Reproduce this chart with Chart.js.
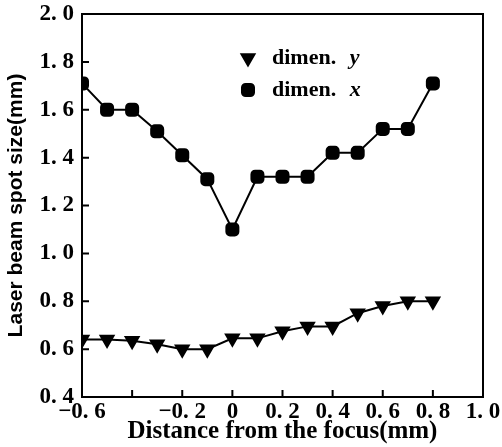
<!DOCTYPE html>
<html>
<head>
<meta charset="utf-8">
<script src="https://cdn.jsdelivr.net/npm/chart.js@4/dist/chart.umd.min.js"></script>
<style>
  html, body { margin: 0; padding: 0; background: #fff; }
  #wrap { width: 502px; height: 447px; }
</style>
</head>
<body>
<div id="wrap"><canvas id="spotChart"></canvas></div>
<script>
  // distance from focus (mm)
  const distance = [-0.6, -0.5, -0.4, -0.3, -0.2, -0.1, 0, 0.1, 0.2, 0.3, 0.4, 0.5, 0.6, 0.7, 0.8];
  // spot size (mm)
  const dimenX = [1.71, 1.60, 1.60, 1.51, 1.41, 1.31, 1.10, 1.32, 1.32, 1.32, 1.42, 1.42, 1.52, 1.52, 1.71];
  const dimenY = [0.64, 0.64, 0.635, 0.62, 0.60, 0.60, 0.645, 0.645, 0.675, 0.695, 0.695, 0.75, 0.78, 0.80, 0.80];

  const xTickLabels = ['\u22120. 6', '', '\u22120. 2', '0', '0. 2', '0. 4', '0. 6', '0. 8', '1. 0'];
  const yTickLabels = ['0. 4', '0. 6', '0. 8', '1. 0', '1. 2', '1. 4', '1. 6', '1. 8', '2. 0'];

  const tickFont = { family: "'Liberation Serif', 'DejaVu Serif', serif", size: 23, weight: 'bold' };

  // frame + inward tick marks + legend inside plot
  const framePlugin = {
    id: 'frame',
    afterDraw(chart) {
      const { ctx, chartArea: a, scales } = chart;
      ctx.save();
      ctx.strokeStyle = '#000';
      ctx.lineWidth = 2;
      ctx.strokeRect(a.left, a.top, a.right - a.left, a.bottom - a.top);
      ctx.beginPath();
      scales.x.ticks.forEach(t => {
        const px = scales.x.getPixelForValue(t.value);
        ctx.moveTo(px, a.bottom);
        ctx.lineTo(px, a.bottom - 7);
      });
      scales.y.ticks.forEach(t => {
        const py = scales.y.getPixelForValue(t.value);
        ctx.moveTo(a.left, py);
        ctx.lineTo(a.left + 7, py);
      });
      ctx.stroke();

      // legend
      const items = [
        { ds: chart.data.datasets[0], name: 'dimen. ', v: 'y', y: 58 },
        { ds: chart.data.datasets[1], name: 'dimen. ', v: 'x', y: 90 }
      ];
      items.forEach(it => {
        Chart.helpers.drawPoint(ctx, {
          pointStyle: it.ds.pointStyle, rotation: it.ds.rotation || 0,
          radius: it.ds.pointRadius, borderWidth: 1
        }, 248, it.y);
        ctx.fillStyle = '#000';
        ctx.textBaseline = 'middle';
        ctx.font = "bold 22px 'Liberation Serif', serif";
        ctx.fillText(it.name, 272, it.y);
        const w = ctx.measureText(it.name).width;
        ctx.font = "italic bold 22px 'Liberation Serif', serif";
        ctx.fillText(it.v, 272 + w + 8, it.y);
      });
      ctx.restore();
    }
  };

  new Chart(document.getElementById('spotChart'), {
    type: 'line',
    data: {
      datasets: [
        {
          label: 'dimen. y',
          data: distance.map((d, i) => ({ x: d, y: dimenY[i] })),
          borderColor: '#000', backgroundColor: '#000', borderWidth: 2,
          pointStyle: 'triangle', rotation: 180, pointRadius: 7.5,
          pointBackgroundColor: '#000', pointBorderColor: '#000', tension: 0
        },
        {
          label: 'dimen. x',
          data: distance.map((d, i) => ({ x: d, y: dimenX[i] })),
          borderColor: '#000', backgroundColor: '#000', borderWidth: 2,
          pointStyle: 'rectRounded', pointRadius: 7,
          pointBackgroundColor: '#000', pointBorderColor: '#000', tension: 0
        }
      ]
    },
    options: {
      responsive: true,
      maintainAspectRatio: false,
      animation: false,
      layout: { padding: { left: 0, right: 19, top: 14, bottom: 0 } },
      plugins: { legend: { display: false }, tooltip: { enabled: false } },
      scales: {
        x: {
          type: 'linear', min: -0.6, max: 1.0,
          afterFit: s => { s.height = 50; },
          grid: { drawOnChartArea: false, drawTicks: false },
          border: { display: false },
          ticks: {
            stepSize: 0.2, color: '#000', font: tickFont, padding: 1, maxRotation: 0,
            autoSkip: false,
            callback: (v, i) => xTickLabels[i]
          },
          title: {
            display: true, text: 'Distance from the focus(mm)', color: '#000',
            font: { family: "'Liberation Serif', serif", size: 25, weight: 'bold' },
            padding: { top: 1, bottom: 0 }
          }
        },
        y: {
          min: 0.4, max: 2.0,
          afterFit: s => { s.width = 82; s.paddingTop = 0; s.paddingBottom = 0; },
          grid: { drawOnChartArea: false, drawTicks: false },
          border: { display: false },
          ticks: {
            stepSize: 0.2, color: '#000', font: tickFont, padding: 8,
            callback: (v, i) => yTickLabels[i]
          },
          title: {
            display: true, text: 'Laser beam spot size(mm)', color: '#000',
            font: { family: "'Liberation Sans', sans-serif", size: 21, weight: 'bold' },
            padding: { top: 4, bottom: 0 }
          }
        }
      }
    },
    plugins: [framePlugin]
  });
</script>
</body>
</html>
